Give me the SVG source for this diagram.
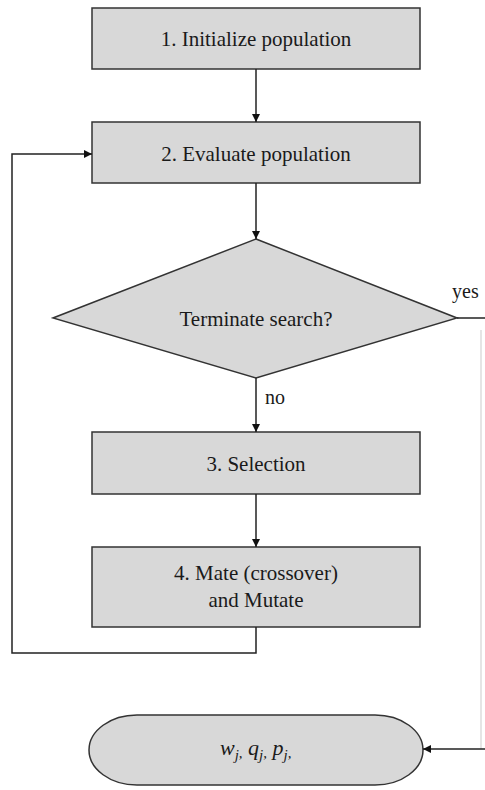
<svg xmlns="http://www.w3.org/2000/svg" width="485" height="790" viewBox="0 0 485 790">
<style>
.box{fill:#d8d8d8;stroke:#333;stroke-width:1.5}
.lbl{font-family:'Liberation Serif','Times New Roman',serif;font-size:21px;fill:#1a1a1a;text-anchor:middle}
.sm{font-family:'Liberation Serif','Times New Roman',serif;font-size:20px;fill:#1a1a1a}
.ln{fill:none;stroke:#222;stroke-width:1.5}
</style>
<defs>
<marker id="ah" viewBox="0 0 10 10" refX="10" refY="5" markerWidth="8" markerHeight="8" markerUnits="userSpaceOnUse" orient="auto">
<path d="M0,0 L10,5 L0,10 z" fill="#111"/>
</marker>
</defs>
<rect width="485" height="790" fill="#fff"/>
<g id="n1"><rect class="box" x="92" y="8" width="328" height="61"/><text class="lbl" x="256" y="46">1. Initialize population</text></g>
<g id="n2"><rect class="box" x="92" y="122" width="328" height="61"/><text class="lbl" x="256" y="161">2. Evaluate population</text></g>
<g id="n3"><polygon class="box" points="256,239 457,318 256,378 53,318"/><text class="lbl" x="256" y="326">Terminate search?</text></g>
<g id="n4"><rect class="box" x="92" y="432" width="328" height="62"/><text class="lbl" x="256" y="471">3. Selection</text></g>
<g id="n5"><rect class="box" x="92" y="547" width="328" height="80"/><text class="lbl" x="256" y="580">4. Mate (crossover)</text><text class="lbl" x="256" y="607">and Mutate</text></g>
<g id="n6"><path class="box" d="M137,715 L375,715 A48,35 0 0 1 375,785 L137,785 A48,35 0 0 1 137,715 z"/>
<text font-family="'Liberation Serif','Times New Roman',serif" font-size="22" font-style="italic" fill="#1a1a1a" x="220" y="755">w<tspan font-size="15" dy="5">j</tspan><tspan font-size="15" dy="-2">,</tspan><tspan dy="-3"> q</tspan><tspan font-size="15" dy="5">j</tspan><tspan font-size="15" dy="-2">,</tspan><tspan dy="-3"> p</tspan><tspan font-size="15" dy="5">j</tspan><tspan font-size="15" dy="-2">,</tspan></text></g>
<g id="connectors">
<line class="ln" x1="256" y1="69" x2="256" y2="122" marker-end="url(#ah)"/>
<line class="ln" x1="256" y1="183" x2="256" y2="239" marker-end="url(#ah)"/>
<line class="ln" x1="256" y1="378" x2="256" y2="432" marker-end="url(#ah)"/>
<line class="ln" x1="256" y1="494" x2="256" y2="547" marker-end="url(#ah)"/>
<polyline class="ln" points="256,627 256,653 12,653 12,154 92,154" marker-end="url(#ah)"/>
<line class="ln" x1="457" y1="318" x2="485" y2="318"/>
<line x1="481" y1="330" x2="481" y2="749" stroke="#ddd" stroke-width="1.5"/>
<line class="ln" x1="485" y1="749" x2="423" y2="749" marker-end="url(#ah)"/>
<text class="sm" x="265" y="404">no</text>
<text class="sm" x="452" y="298">yes</text>
</g>
</svg>
